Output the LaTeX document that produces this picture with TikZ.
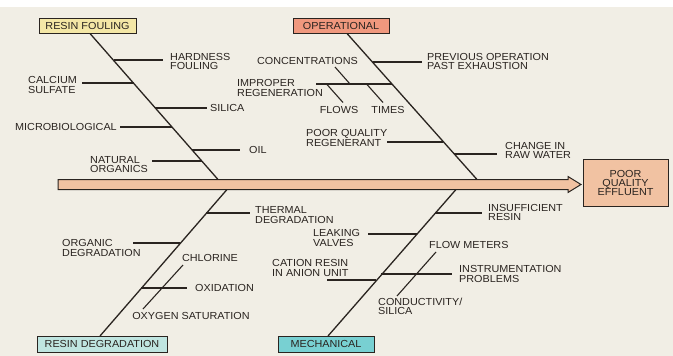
\documentclass[tikz,border=0pt]{standalone}
\usepackage{fontspec}
\setmainfont{Liberation Sans}[FakeStretch=1.06]
\definecolor{bg}{HTML}{F1EEE5}
\definecolor{ink}{HTML}{2A2420}
\definecolor{rfcol}{HTML}{F4E7A6}
\definecolor{opcol}{HTML}{F0987E}
\definecolor{rdcol}{HTML}{BFE5E0}
\definecolor{mecol}{HTML}{78D0D2}
\definecolor{barcol}{HTML}{F1C2A2}
\newcommand{\lblfont}{\fontsize{10.2}{9.4}\selectfont}
\tikzset{
  bone/.style={draw=ink, line width=1.3pt},
  twig/.style={draw=ink, line width=1.1pt},
  lbl/.style={font=\lblfont, inner sep=0pt, align=left, anchor=west, text=ink},
  clbl/.style={font=\lblfont, inner sep=0pt, align=center, text=ink},
  catbox/.style={draw=ink, line width=1pt, font=\lblfont, text=ink, inner sep=0pt, minimum height=15pt}
}
\begin{document}
\begin{tikzpicture}[x=1pt,y=-1pt]
\useasboundingbox (0,0) rectangle (673,356);
\fill[bg] (0,7) rectangle (673,356);
\fill[white] (0,0) rectangle (673,7);

% main arrow
\draw[draw=ink, line width=1pt, fill=barcol] (58,179.5) -- (568,179.5) -- (568,176.5) -- (581,184.5) -- (568,192.5) -- (568,189.5) -- (58,189.5) -- cycle;
\node[draw=ink, line width=1pt, fill=barcol, minimum width=85pt, minimum height=47pt, clbl] (eff) at (625.5,183) {POOR\\QUALITY\\EFFLUENT};

% category boxes
\node[catbox, fill=rfcol, minimum width=97pt] (rfbox) at (87.5,26) {RESIN FOULING};
\node[catbox, fill=opcol, minimum width=96pt] (opbox) at (341,25.5) {OPERATIONAL};
\node[catbox, fill=rdcol, minimum width=130pt, minimum height=16pt] (rdbox) at (102,344) {RESIN DEGRADATION};
\node[catbox, fill=mecol, minimum width=96pt, minimum height=16pt] (mebox) at (326,344) {MECHANICAL};

% ---------- RESIN FOULING ----------
\coordinate (rfA) at (90,33.5);
\coordinate (rfB) at (218,179.5);
\draw[bone] (rfA) -- (rfB);
\coordinate (hfS) at (113.5,60); \coordinate (hfE) at (163,60);
\node[lbl] (hf) at (170,61.5) {HARDNESS\\FOULING};
\draw[twig] (hfS) -- (hfE);
\coordinate (csS) at (82,83); \coordinate (csE) at (133.5,83);
\node[lbl] (cs) at (28,85) {CALCIUM\\SULFATE};
\draw[twig] (csS) -- (csE);
\coordinate (siS) at (155,108); \coordinate (siE) at (207,108);
\node[lbl] (si) at (210,108) {SILICA};
\draw[twig] (siS) -- (siE);
\coordinate (mbS) at (120,127); \coordinate (mbE) at (172,127);
\node[lbl] (mb) at (15,127) {MICROBIOLOGICAL};
\draw[twig] (mbS) -- (mbE);
\coordinate (oilS) at (192,150); \coordinate (oilE) at (240,150);
\node[lbl] (oil) at (249,150) {OIL};
\draw[twig] (oilS) -- (oilE);
\coordinate (noS) at (152,161); \coordinate (noE) at (201.5,161);
\node[lbl] (no) at (90,164.5) {NATURAL\\ORGANICS};
\draw[twig] (noS) -- (noE);

% ---------- OPERATIONAL ----------
\coordinate (opA) at (347,33.5);
\coordinate (opB) at (477,179.5);
\draw[bone] (opA) -- (opB);
\coordinate (peS) at (372.6,62); \coordinate (peE) at (422,62);
\node[lbl] (pe) at (427,61.5) {PREVIOUS OPERATION\\PAST EXHAUSTION};
\draw[twig] (peS) -- (peE);
\coordinate (irS) at (316,84); \coordinate (irE) at (392,84);
\node[lbl] (ir) at (237,88) {IMPROPER\\REGENERATION};
\draw[twig] (irS) -- (irE);
\node[clbl] (conc) at (307.5,61) {CONCENTRATIONS};
\coordinate (concS) at (335,67); \coordinate (concE) at (350,84);
\draw[twig] (concS) -- (concE);
\node[clbl] (flows) at (339,110) {FLOWS};
\coordinate (flS) at (327,84.5); \coordinate (flE) at (343,102.5);
\draw[twig] (flS) -- (flE);
\node[clbl] (times) at (388,110) {TIMES};
\coordinate (tiS) at (367,84.5); \coordinate (tiE) at (383,102.5);
\draw[twig] (tiS) -- (tiE);
\coordinate (pqS) at (387,142); \coordinate (pqE) at (443,142);
\node[lbl] (pq) at (306,138) {POOR QUALITY\\REGENERANT};
\draw[twig] (pqS) -- (pqE);
\coordinate (crS) at (454,154); \coordinate (crE) at (497,154);
\node[lbl] (cr) at (505,150.5) {CHANGE IN\\RAW WATER};
\draw[twig] (crS) -- (crE);

% ---------- RESIN DEGRADATION ----------
\coordinate (rdA) at (100,336);
\coordinate (rdB) at (227,189.5);
\draw[bone] (rdA) -- (rdB);
\coordinate (tdS) at (206,213); \coordinate (tdE) at (250,213);
\node[lbl] (td) at (255,215) {THERMAL\\DEGRADATION};
\draw[twig] (tdS) -- (tdE);
\coordinate (odS) at (133,243); \coordinate (odE) at (180,243);
\node[lbl] (od) at (62,248) {ORGANIC\\DEGRADATION};
\draw[twig] (odS) -- (odE);
\coordinate (oxS) at (141,288); \coordinate (oxE) at (187,288);
\node[lbl] (ox) at (195,288) {OXIDATION};
\draw[twig] (oxS) -- (oxE);
\node[clbl] (chl) at (210,258) {CHLORINE};
\node[clbl] (oxs) at (191,316) {OXYGEN SATURATION};
\coordinate (chS) at (143,309); \coordinate (chE) at (183,265);
\draw[twig] (chS) -- (chE);

% ---------- MECHANICAL ----------
\coordinate (meA) at (328,336);
\coordinate (meB) at (456,189.5);
\draw[bone] (meA) -- (meB);
\coordinate (isS) at (435,213); \coordinate (isE) at (482,213);
\node[lbl] (is) at (488,212.5) {INSUFFICIENT\\RESIN};
\draw[twig] (isS) -- (isE);
\coordinate (lvS) at (368,234); \coordinate (lvE) at (416.5,234);
\node[lbl] (lv) at (313,238) {LEAKING\\VALVES};
\draw[twig] (lvS) -- (lvE);
\coordinate (caS) at (327,280); \coordinate (caE) at (376,280);
\node[lbl] (ca) at (272,268) {CATION RESIN\\IN ANION UNIT};
\draw[twig] (caS) -- (caE);
\coordinate (ipS) at (381,274); \coordinate (ipE) at (452,274);
\node[lbl] (ip) at (459,274) {INSTRUMENTATION\\PROBLEMS};
\draw[twig] (ipS) -- (ipE);
\node[lbl] (fm) at (429,245) {FLOW METERS};
\node[lbl] (cd) at (378,306.5) {CONDUCTIVITY/\\SILICA};
\coordinate (fmS) at (397,296); \coordinate (fmE) at (436,252);
\draw[twig] (fmS) -- (fmE);
\end{tikzpicture}
\end{document}
